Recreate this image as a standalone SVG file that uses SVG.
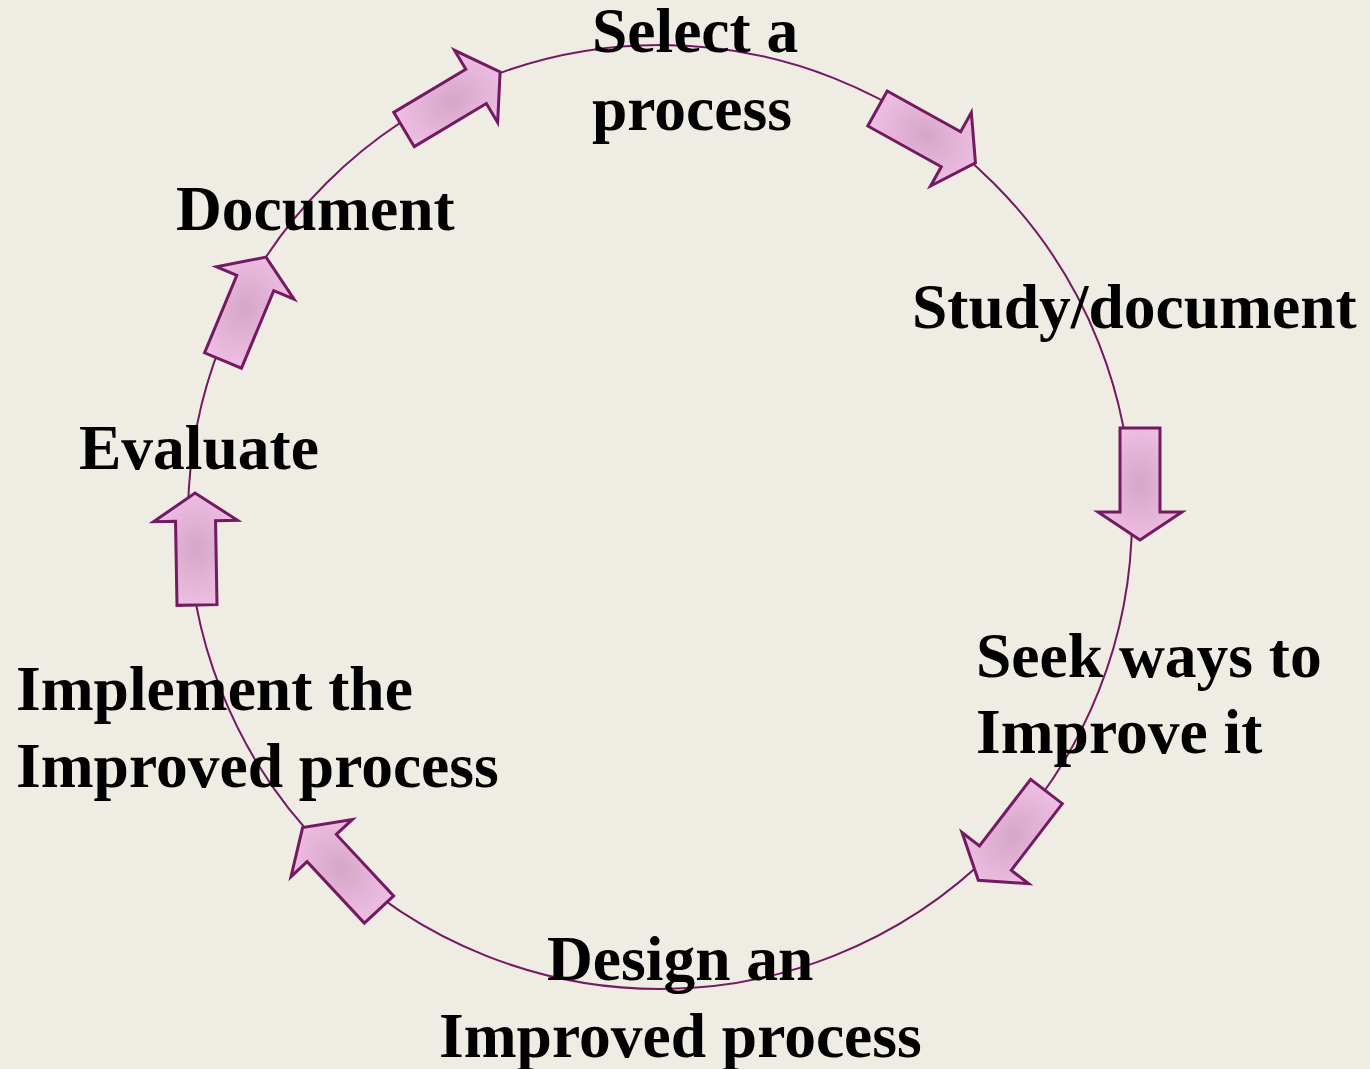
<svg xmlns="http://www.w3.org/2000/svg" xmlns:xlink="http://www.w3.org/1999/xlink" width="1370" height="1069" viewBox="0 0 1370 1069">
  <style>
    .lbl { font-family: "Liberation Serif", "Times New Roman", serif; font-weight: bold; font-size: 63.5px; fill: #000; }
    .ring { fill: none; stroke: #731A62; stroke-width: 2; }
    .arr { fill: url(#g); stroke: #731A62; stroke-width: 3; stroke-linejoin: miter; }
  </style>
  <defs>
    <radialGradient id="g" cx="0.5" cy="0.5" r="0.6">
      <stop offset="0" stop-color="#D6A6C9"/>
      <stop offset="1" stop-color="#F0C2E5"/>
    </radialGradient>
    <path id="arrow" d="M0,-20 L84,-20 L84,-42 L112,0 L84,42 L84,20 L0,20 Z"/>
  </defs>
  <rect width="1370" height="1069" fill="#EFECE3"/>
  <g id="connectors">
    <circle class="ring" cx="660" cy="517" r="472"/>
    <use class="arr" xlink:href="#arrow" href="#arrow" transform="translate(404,129.5) rotate(-30.9)"/>
    <use class="arr" xlink:href="#arrow" href="#arrow" transform="translate(877.5,108.5) rotate(29)"/>
    <use class="arr" xlink:href="#arrow" href="#arrow" transform="translate(1140,428) rotate(90)"/>
    <use class="arr" xlink:href="#arrow" href="#arrow" transform="translate(1046.5,791.5) rotate(127.5)"/>
    <use class="arr" xlink:href="#arrow" href="#arrow" transform="translate(379,909.5) rotate(-133)"/>
    <use class="arr" xlink:href="#arrow" href="#arrow" transform="translate(197,605) rotate(-91)"/>
    <use class="arr" xlink:href="#arrow" href="#arrow" transform="translate(223,360.5) rotate(-67.4)"/>
  </g>
  <g id="node-select">
    <text class="lbl" x="592" y="52">Select a</text>
    <text class="lbl" x="592" y="130">process</text>
  </g>
  <g id="node-study">
    <text class="lbl" x="912" y="328">Study/document</text>
  </g>
  <g id="node-seek">
    <text class="lbl" x="976" y="677">Seek ways to</text>
    <text class="lbl" x="976" y="753">Improve it</text>
  </g>
  <g id="node-design">
    <text class="lbl" x="547" y="980">Design an</text>
    <text class="lbl" x="439" y="1057">Improved process</text>
  </g>
  <g id="node-implement">
    <text class="lbl" x="16" y="710">Implement the</text>
    <text class="lbl" x="16" y="787">Improved process</text>
  </g>
  <g id="node-evaluate">
    <text class="lbl" x="79" y="469">Evaluate</text>
  </g>
  <g id="node-document">
    <text class="lbl" x="176" y="230">Document</text>
  </g>
</svg>
